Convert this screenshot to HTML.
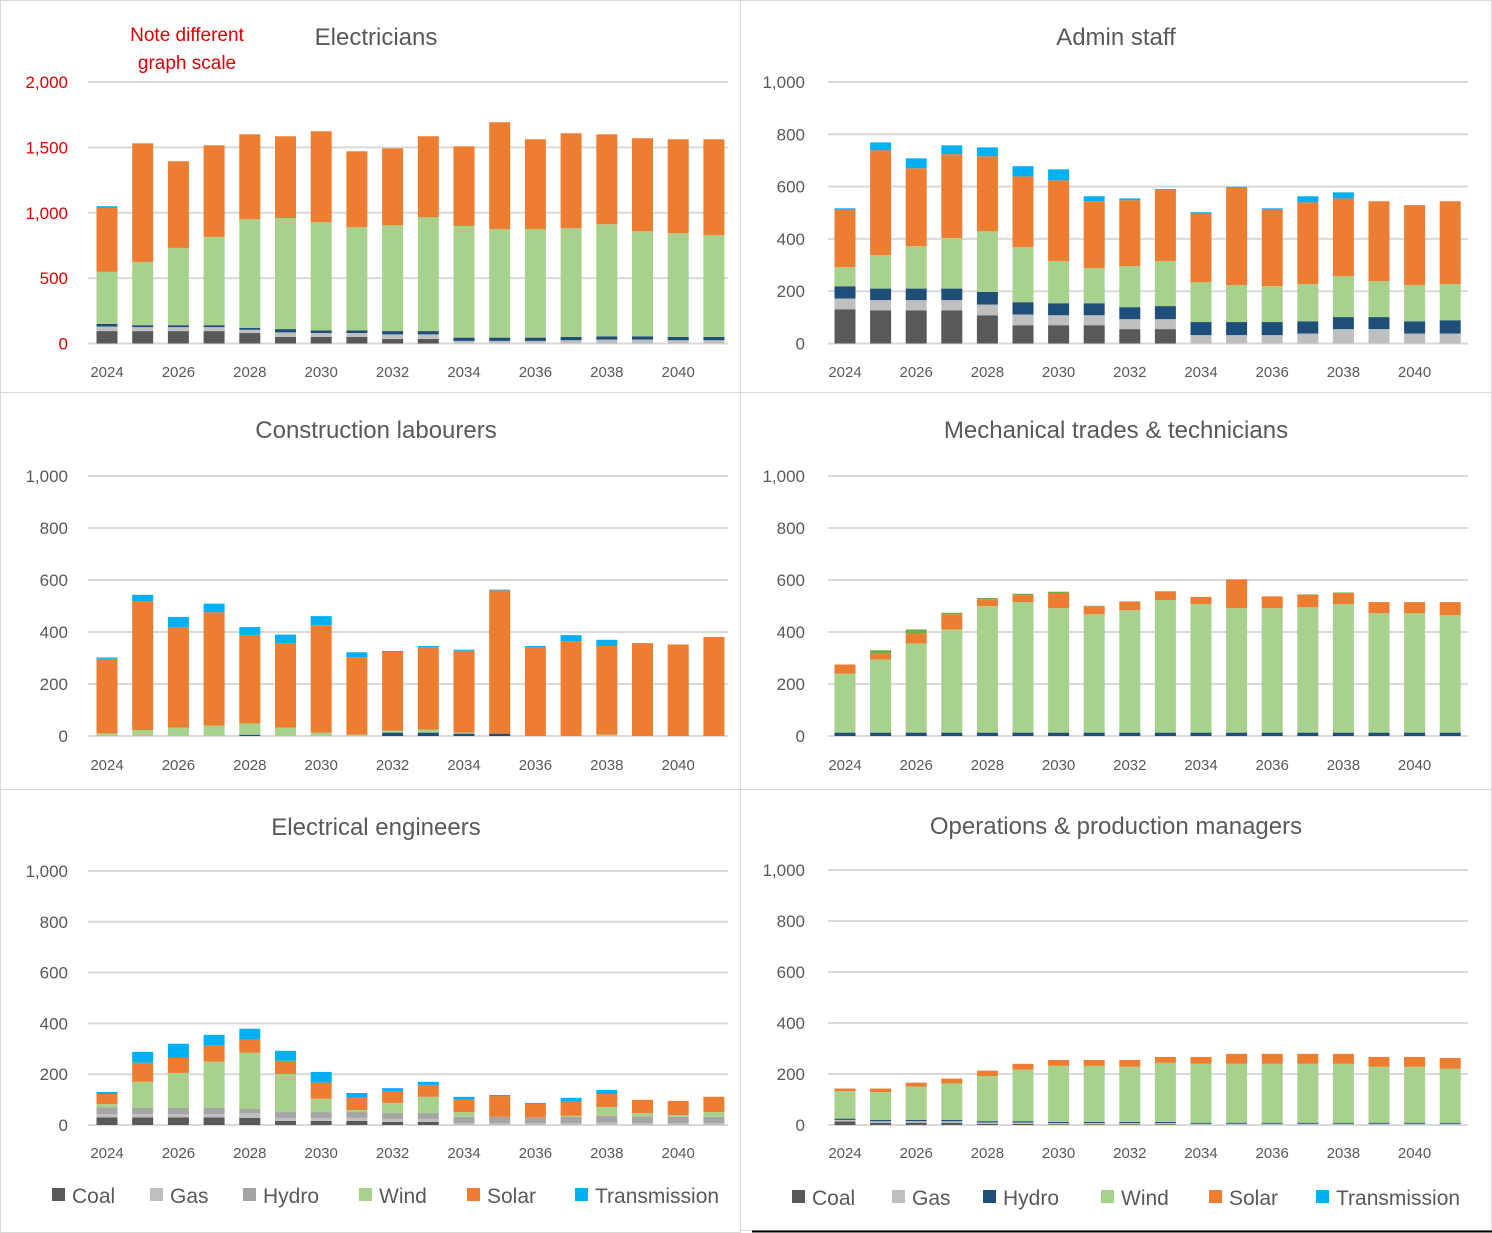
<!DOCTYPE html>
<html><head><meta charset="utf-8"><style>
html,body{margin:0;padding:0;background:#fff;}
svg{display:block;font-family:"Liberation Sans",sans-serif;}
</style></head><body>
<svg id="c" width="1492" height="1233" viewBox="0 0 1492 1233" xmlns="http://www.w3.org/2000/svg"></svg>
<script>
const years = [2024,2025,2026,2027,2028,2029,2030,2031,2032,2033,2034,2035,2036,2037,2038,2039,2040,2041];
const xTickLabels = ["2024","2026","2028","2030","2032","2034","2036","2038","2040"];
const ticks1000 = [0,200,400,600,800,1000];
const ticks2000 = [0,500,1000,1500,2000];

const elecCoal  = [95,95,95,95,80,50,50,50,35,35,0,0,0,0,0,0,0,0];
const elecGas   = [35,30,30,30,25,35,30,30,35,35,20,20,20,25,30,30,25,25];
const elecHydro = [20,15,15,15,15,25,20,20,25,25,25,25,25,25,25,25,25,25];
const elecWind  = [398,484,591,675,830,850,827,789,809,870,854,829,829,831,857,803,793,778];
const elecSolar = [492,907,663,701,650,625,696,581,589,620,609,818,688,727,688,712,719,734];
const elecTrans = [10,0,0,0,0,0,0,0,0,0,0,0,0,0,0,0,0,0];

const admCoal  = [131,127,127,127,108,70,70,70,55,55,0,0,0,0,0,0,0,0];
const admGas   = [41,39,39,39,41,41,38,38,38,38,32,32,32,38,55,55,38,38];
const admHydro = [47,44,44,44,48,47,46,46,46,50,50,50,50,47,46,46,47,51];
const admWind  = [73,128,162,193,232,210,161,134,157,172,152,141,137,142,156,137,138,138];
const admSolar = [220,401,298,321,287,271,309,256,252,274,263,372,293,313,298,306,306,317];
const admTrans = [5,30,38,34,34,39,42,19,7,2,5,4,5,23,23,0,0,0];

const conHydro = [0,0,0,0,5,0,0,0,13,13,9,9,0,0,0,0,0,0];
const conWind  = [10,23,32,40,43,32,13,5,8,12,4,0,0,0,5,0,0,0];
const conSolar = [287,496,386,436,340,325,413,298,302,317,315,551,342,365,341,357,352,381];
const conTrans = [5,24,40,33,31,33,35,19,4,4,4,3,4,23,24,0,0,0];

const mechHydro = [13,13,13,13,13,13,13,13,13,13,13,13,13,13,13,13,13,13];
const mechWind  = [227,281,343,397,486,502,479,455,471,510,494,479,479,482,494,459,459,452];
const mechSolar = [35,23,38,58,27,27,58,31,32,32,28,108,45,48,43,43,43,50];
const mechOther = [0,13,16,6,5,5,5,2,2,2,0,2,0,2,2,0,0,0];

const eeCoal  = [30,30,30,30,28,16,16,16,12,12,0,0,0,0,0,0,0,0];
const eeGas   = [13,13,13,13,18,12,12,12,12,12,8,8,8,8,10,8,8,8];
const eeHydro = [27,24,24,24,17,23,23,23,23,23,24,24,22,24,26,25,24,24];
const eeWind  = [12,103,138,182,221,150,52,8,40,64,19,0,0,4,35,14,7,19];
const eeSolar = [40,75,59,63,52,52,64,48,47,47,48,82,53,55,51,52,56,60];
const eeTrans = [8,43,56,43,43,39,42,19,11,12,12,4,4,16,16,0,0,0];

const opsCoal  = [14,9,9,9,4,4,2,2,2,2,0,0,0,0,0,0,0,0];
const opsGas   = [6,6,6,6,6,6,6,6,6,6,5,5,5,5,5,5,5,5];
const opsHydro = [5,5,5,5,5,5,4,4,4,4,4,4,4,4,4,4,4,4];
const opsWind  = [108,109,131,143,177,202,220,220,216,232,231,231,231,231,231,219,219,212];
const opsSolar = [10,14,15,19,21,23,23,23,27,23,27,39,39,39,39,39,39,42];

const C = {coal:"#595959",gas:"#bfbfbf",hydro:"#1f4e79",hydroG:"#a5a5a5",wind:"#a9d18e",solar:"#ed7d31",trans:"#00b0f0",other:"#70ad47"};
const NS = "http://www.w3.org/2000/svg";
const svg = document.getElementById("c");
function mk(tag, attrs, parent){const e=document.createElementNS(NS,tag);for(const k in attrs)e.setAttribute(k,attrs[k]);(parent||svg).appendChild(e);return e;}

// panel borders
const borders=[[0.5,0.5,740,392],[740.5,0.5,751,392],[0.5,392.5,740,397],[740.5,392.5,751,397],[0.5,789.5,740,443],[740.5,789.5,751,441]];
borders.forEach(b=>{
  const r=mk("rect",{x:b[0],y:b[1],width:b[2],height:b[3],fill:"none",stroke:"#d9d9d9","stroke-width":1});
  
  
});
const bl=mk("line",{x1:752,y1:1231.5,x2:1492,y2:1231.5,stroke:"#000","stroke-width":2});



function panel(p){
  const g=mk("g",{});
  
  
  const yv=v=>p.y0-(v/p.max)*(p.y0-p.yTop);
  const xc=i=>p.x0+i*p.step;
  p.ticks.forEach(t=>{
    const ln=mk("line",{x1:p.gx1,x2:p.gx2,y1:yv(t),y2:yv(t),stroke:"#d9d9d9","stroke-width":2},g);
    
    
    const tx=mk("text",{x:p.lx,y:yv(t)+6,"text-anchor":"end","font-size":17,fill:p.tickColor||"#595959"},g);
    
    
    tx.textContent=t.toLocaleString("en-US");
  });
  xTickLabels.forEach((l,k)=>{
    const tx=mk("text",{x:xc(k*2),y:p.xly,"text-anchor":"middle","font-size":15,fill:"#595959"},g);
    
    
    tx.textContent=l;
  });
  const t=mk("text",{x:p.tx,y:p.ty,"text-anchor":"middle","font-size":24,fill:"#595959"},g);
  
  
  t.textContent=p.title;
  years.forEach((yr,i)=>{
    let acc=0;
    p.series.forEach(s=>{
      const v=s.data[i];
      if(v>0){
        const r=mk("rect",{x:xc(i)-10.5,width:21,y:yv(acc+v),height:yv(acc)-yv(acc+v),fill:s.color},g);
        
        
      }
      acc+=v;
    });
  });
}

const L={x0:107,step:35.7,gx1:88,gx2:728,lx:68};
const R={x0:845,step:35.6,gx1:828,gx2:1468,lx:805};

panel(Object.assign({},L,{name:"electricians-chart",title:"Electricians",tx:376,ty:45,y0:343.5,yTop:82,max:2000,ticks:ticks2000,xly:377,tickColor:"#e00000",
  series:[{key:"coal",data:elecCoal,color:C.coal},{key:"gas",data:elecGas,color:C.gas},{key:"hydro",data:elecHydro,color:C.hydro},{key:"wind",data:elecWind,color:C.wind},{key:"solar",data:elecSolar,color:C.solar},{key:"transmission",data:elecTrans,color:C.trans}]}));
panel(Object.assign({},R,{name:"admin-staff-chart",title:"Admin staff",tx:1116,ty:45,y0:343.5,yTop:82,max:1000,ticks:ticks1000,xly:377,
  series:[{key:"coal",data:admCoal,color:C.coal},{key:"gas",data:admGas,color:C.gas},{key:"hydro",data:admHydro,color:C.hydro},{key:"wind",data:admWind,color:C.wind},{key:"solar",data:admSolar,color:C.solar},{key:"transmission",data:admTrans,color:C.trans}]}));
panel(Object.assign({},L,{name:"construction-labourers-chart",title:"Construction labourers",tx:376,ty:438,y0:736,yTop:476,max:1000,ticks:ticks1000,xly:770,
  series:[{key:"hydro",data:conHydro,color:C.hydro},{key:"wind",data:conWind,color:C.wind},{key:"solar",data:conSolar,color:C.solar},{key:"transmission",data:conTrans,color:C.trans}]}));
panel(Object.assign({},R,{name:"mechanical-trades-chart",title:"Mechanical trades & technicians",tx:1116,ty:438,y0:736,yTop:476,max:1000,ticks:ticks1000,xly:770,
  series:[{key:"hydro",data:mechHydro,color:C.hydro},{key:"wind",data:mechWind,color:C.wind},{key:"solar",data:mechSolar,color:C.solar},{key:"other",data:mechOther,color:C.other}]}));
panel(Object.assign({},L,{name:"electrical-engineers-chart",title:"Electrical engineers",tx:376,ty:835,y0:1125,yTop:871,max:1000,ticks:ticks1000,xly:1158,
  series:[{key:"coal",data:eeCoal,color:C.coal},{key:"gas",data:eeGas,color:C.gas},{key:"hydro",data:eeHydro,color:C.hydroG},{key:"wind",data:eeWind,color:C.wind},{key:"solar",data:eeSolar,color:C.solar},{key:"transmission",data:eeTrans,color:C.trans}]}));
panel(Object.assign({},R,{name:"operations-managers-chart",title:"Operations & production managers",tx:1116,ty:834,y0:1125,yTop:870,max:1000,ticks:ticks1000,xly:1158,
  series:[{key:"coal",data:opsCoal,color:C.coal},{key:"gas",data:opsGas,color:C.gas},{key:"hydro",data:opsHydro,color:C.hydro},{key:"wind",data:opsWind,color:C.wind},{key:"solar",data:opsSolar,color:C.solar}]}));

// note
["Note different","graph scale"].forEach((s,k)=>{
  const t=mk("text",{x:187,y:41+k*28,"text-anchor":"middle","font-size":19,fill:"#e00000"});
  
  
  t.textContent=s;
});

// legends
const legNames=["Coal","Gas","Hydro","Wind","Solar","Transmission"];
function legend(xs,y,cols,name){
  const g=mk("g",{});
  
  
  legNames.forEach((n,k)=>{
    const r=mk("rect",{x:xs[k],y:y-7,width:13,height:13,fill:cols[k]},g);
    
    
    const t=mk("text",{x:xs[k]+20,y:y+8,"font-size":21,fill:"#595959"},g);
    
    
    t.textContent=n;
  });
}
legend([52,150,243,359,467,575],1195,[C.coal,C.gas,C.hydroG,C.wind,C.solar,C.trans],"legend-left");
legend([792,892,983,1101,1209,1316],1197,[C.coal,C.gas,C.hydro,C.wind,C.solar,C.trans],"legend-right");
</script>
</body></html>
